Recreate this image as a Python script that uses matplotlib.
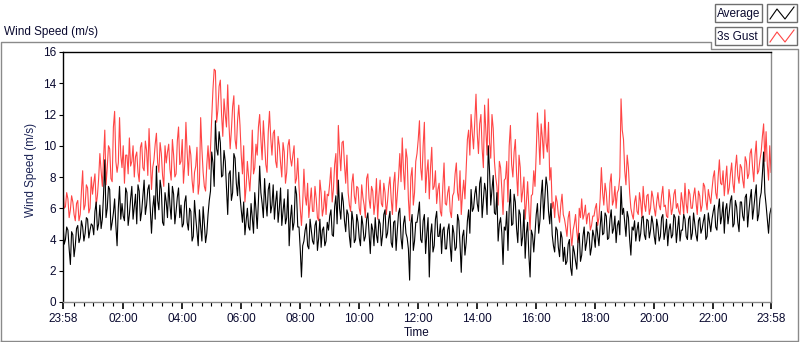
import numpy as np
import matplotlib
matplotlib.use("Agg")
import matplotlib.pyplot as plt
from matplotlib.lines import Line2D
from matplotlib.patches import Rectangle
from matplotlib.ticker import FixedLocator

# 5-minute samples from 23:58 to 23:58 (one row per hour)
avg_speed = [
    5.1, 4.0, 4.6, 2.4, 4.3, 3.6, 4.9, 4.1, 4.8, 4.4, 5.3, 4.6,
    4.9, 5.8, 4.6, 6.2, 5.3, 9.1, 6.0, 7.2, 5.1, 6.6, 3.6, 7.4,
    6.3, 5.2, 7.0, 5.6, 7.4, 6.1, 5.0, 7.1, 5.8, 7.8, 6.2, 7.5,
    4.4, 6.8, 8.7, 5.9, 7.2, 4.9, 6.4, 7.6, 5.3, 6.9, 5.8, 7.3,
    6.2, 5.0, 6.8, 4.6, 5.8, 4.2, 5.4, 3.6, 4.8, 6.1, 3.8, 5.6,
    7.1, 8.9, 11.6, 9.4, 10.2, 8.1, 9.0, 5.6, 8.4, 7.0, 9.2, 6.8,
    6.8, 5.1, 4.3, 6.0, 4.6, 5.4, 7.0, 4.7, 8.7, 6.3, 7.9, 5.5,
    7.6, 6.2, 5.3, 7.1, 6.0, 4.9, 6.6, 5.4, 3.6, 6.2, 5.1, 6.9,
    4.8, 1.6, 3.9, 5.0, 3.4, 4.6, 3.7, 5.2, 4.1, 3.5, 4.8, 3.9,
    4.6, 5.9, 4.2, 6.8, 7.8, 5.3, 6.4, 4.5, 5.6, 3.5, 5.2, 4.0,
    5.1, 3.6, 4.9, 4.2, 5.7, 3.1, 4.6, 5.4, 3.8, 5.0, 4.3, 5.9,
    4.4, 5.8, 3.5, 5.2, 4.6, 6.0, 3.4, 5.5, 4.1, 1.4, 5.6, 3.9,
    5.1, 6.4, 3.8, 5.6, 4.4, 1.6, 5.0, 3.6, 5.8, 4.2, 3.1, 4.8,
    3.4, 5.0, 2.6, 4.4, 3.5, 5.2, 1.9, 4.6, 3.8, 5.9, 7.2, 6.0,
    7.4, 5.8, 8.0, 6.5, 7.1, 10.0, 6.2, 8.1, 5.6, 3.9, 5.4, 2.4,
    4.6, 3.3, 7.2, 5.0, 6.4, 3.8, 5.6, 4.2, 2.8, 5.1, 1.6, 4.3,
    4.4, 6.3, 5.2, 7.8, 6.6, 7.4, 5.0, 4.3, 3.2, 4.6, 2.9, 4.1,
    3.5, 2.6, 4.0, 1.7, 3.2, 2.1, 4.4, 3.0, 4.8, 3.8, 4.4, 3.5,
    4.2, 5.1, 3.6, 5.8, 4.4, 5.5, 4.1, 5.9, 4.7, 3.8, 5.2, 7.4,
    6.0, 4.2, 5.4, 3.0, 4.6, 3.9, 5.1, 4.4, 5.5, 4.0, 5.2, 4.6,
    5.0, 3.7, 4.8, 4.2, 5.6, 4.5, 3.6, 5.0, 4.3, 5.4, 4.7, 3.9,
    4.6, 5.3, 4.0, 5.5, 4.4, 5.0, 3.9, 5.4, 4.7, 5.6, 4.2, 5.1,
    5.3, 6.2, 4.6, 6.6, 5.5, 4.4, 6.3, 5.7, 6.8, 5.0, 6.1, 4.5,
    6.4, 5.2, 6.9, 5.8, 7.2, 6.0, 7.5, 5.6, 7.0, 9.6, 6.2, 4.4, 6.0,
]

# samples taken half-way between the ones above (t + 2.5 min)
avg_speed_mid = [
    3.7, 4.8, 3.4, 4.5, 2.9, 4.7, 3.8, 5.2, 3.9, 5.4, 4.1, 5.0,
    4.3, 6.4, 5.0, 4.7, 6.9, 5.4, 7.4, 4.6, 5.7, 4.9, 6.0, 5.3,
    5.5, 7.3, 4.9, 6.6, 5.3, 6.9, 7.5, 5.2, 6.8, 5.6, 7.2, 5.9,
    6.0, 5.3, 6.5, 7.8, 5.1, 7.0, 5.4, 6.2, 7.4, 5.0, 6.7, 5.4,
    4.8, 6.4, 5.1, 6.0, 3.9, 6.5, 4.5, 5.9, 3.9, 5.0, 4.4, 6.5,
    9.6, 7.4, 9.8, 10.9, 8.0, 9.7, 7.3, 8.2, 6.5, 9.5, 7.6, 8.3,
    5.9, 6.4, 5.2, 4.8, 6.3, 4.4, 5.9, 6.5, 7.0, 5.4, 6.4, 7.2,
    5.7, 7.5, 6.4, 5.1, 7.3, 5.8, 5.0, 7.2, 5.3, 4.6, 7.4, 4.8,
    3.4, 3.6, 4.6, 3.6, 5.3, 3.9, 4.9, 3.3, 5.3, 4.6, 3.6, 5.1,
    5.5, 4.3, 6.1, 5.0, 6.0, 7.0, 5.2, 5.9, 4.2, 5.8, 3.8, 5.6,
    4.1, 5.5, 3.9, 5.3, 4.4, 5.0, 3.6, 4.3, 5.3, 3.6, 5.6, 4.1,
    5.3, 3.8, 5.1, 3.3, 5.7, 4.1, 5.0, 4.4, 3.4, 5.0, 3.3, 5.1,
    5.7, 4.0, 5.2, 3.1, 5.4, 4.3, 3.2, 5.3, 4.2, 5.0, 4.6, 3.4,
    4.6, 3.6, 4.9, 3.3, 5.6, 3.7, 4.2, 3.0, 5.2, 4.4, 5.8, 6.9,
    6.3, 7.6, 5.4, 7.6, 5.6, 8.4, 7.2, 5.7, 7.0, 5.0, 4.4, 4.8,
    5.8, 6.0, 4.9, 6.9, 4.7, 5.9, 3.6, 5.9, 4.4, 3.0, 4.6, 3.2,
    5.6, 4.4, 6.8, 5.3, 8.0, 5.8, 6.3, 3.6, 4.8, 3.5, 4.5, 2.6,
    2.4, 3.7, 2.2, 3.6, 2.6, 3.9, 2.6, 4.2, 3.3, 4.5, 3.0, 4.6,
    3.5, 4.3, 4.8, 4.3, 5.7, 4.0, 5.3, 4.4, 5.5, 4.9, 4.3, 5.6,
    5.1, 5.8, 4.0, 4.8, 5.2, 4.6, 3.9, 5.4, 4.3, 5.3, 4.1, 5.5,
    4.2, 5.3, 3.9, 5.4, 4.0, 5.3, 4.6, 4.1, 5.6, 3.8, 5.5, 4.6,
    5.6, 4.2, 5.3, 4.0, 5.7, 4.3, 5.2, 4.4, 5.2, 4.0, 5.7, 4.5,
    5.8, 4.8, 5.9, 5.0, 6.4, 5.9, 5.0, 6.5, 4.8, 6.5, 5.1, 6.4,
    5.5, 6.7, 4.8, 6.6, 5.3, 6.8, 5.2, 6.6, 8.2, 7.0, 5.3, 5.6,
]

gust_speed = [
    7.4, 6.1, 6.6, 5.9, 6.4, 5.2, 6.5, 5.6, 8.4, 6.2, 7.3, 6.0,
    6.9, 8.2, 6.8, 9.5, 7.4, 11.0, 8.6, 9.8, 7.7, 12.2, 8.3, 11.8,
    8.6, 7.6, 9.4, 10.5, 9.0, 8.0, 9.6, 7.7, 10.2, 8.4, 9.7, 11.1,
    7.2, 9.1, 10.8, 8.3, 9.5, 7.4, 8.9, 10.1, 7.8, 9.4, 8.2, 11.2,
    9.0, 7.6, 11.5, 8.1, 9.4, 7.0, 8.7, 6.9, 11.8, 8.3, 7.1, 10.0,
    9.8, 13.6, 14.8, 12.3, 14.2, 10.6, 12.0, 13.9, 9.8, 12.5, 10.4, 11.6,
    11.3, 8.2, 6.4, 9.0, 7.1, 11.0, 8.6, 9.4, 12.0, 9.1, 10.2, 8.3,
    12.2, 9.4, 11.0, 8.6, 10.0, 8.0, 9.6, 8.3, 10.4, 8.7, 10.0, 7.9,
    7.4, 4.9, 8.5, 6.2, 5.4, 7.3, 5.8, 6.6, 5.2, 7.0, 6.0, 5.6,
    6.8, 8.6, 7.2, 9.5, 11.3, 8.4, 10.3, 7.6, 7.0, 5.8, 8.2, 6.3,
    7.3, 5.6, 6.7, 5.4, 8.2, 6.0, 7.1, 6.4, 5.3, 7.8, 6.1, 7.0,
    6.4, 8.0, 5.6, 8.3, 6.9, 9.5, 10.5, 7.2, 9.2, 5.2, 8.6, 7.0,
    9.5, 11.6, 7.8, 11.5, 8.3, 6.6, 9.9, 7.4, 6.3, 7.6, 5.5, 8.9,
    6.2, 7.4, 5.4, 7.0, 8.9, 6.5, 5.6, 7.8, 8.5, 11.0, 12.0, 9.8,
    13.3, 9.5, 12.0, 8.6, 11.0, 13.0, 9.2, 11.1, 8.0, 6.2, 8.6, 5.6,
    7.9, 6.4, 11.3, 8.0, 10.4, 6.8, 8.6, 7.1, 5.3, 7.7, 4.6, 6.9,
    7.4, 12.1, 8.8, 10.5, 12.3, 9.6, 7.8, 6.0, 5.4, 6.4, 5.1, 6.9,
    5.3, 4.2, 5.8, 3.6, 5.0, 4.5, 6.0, 6.6, 5.6, 5.0, 5.7, 4.9,
    5.5, 6.3, 5.4, 8.6, 6.2, 7.0, 5.7, 8.2, 6.5, 6.0, 7.2, 13.0,
    10.4, 7.5, 8.6, 6.0, 5.3, 6.8, 5.6, 6.4, 7.4, 5.8, 6.9, 6.0,
    6.7, 5.5, 7.0, 5.9, 7.4, 6.2, 5.4, 6.6, 6.0, 7.2, 6.3, 5.6,
    6.4, 7.6, 5.7, 6.9, 6.0, 7.3, 5.6, 6.8, 6.2, 7.4, 5.9, 6.7,
    7.2, 8.4, 6.6, 9.1, 7.5, 6.8, 8.7, 7.3, 8.9, 7.0, 9.4, 7.6,
    8.6, 7.3, 9.0, 8.2, 9.8, 7.7, 10.3, 8.4, 9.6, 11.4, 10.9, 7.8, 8.3,
]

gust_speed_mid = [
    6.0, 7.0, 5.4, 6.8, 5.6, 6.3, 5.2, 7.1, 5.9, 7.5, 5.7, 8.0,
    7.6, 6.2, 7.9, 8.4, 9.2, 7.5, 10.0, 7.9, 11.2, 9.0, 8.9, 9.4,
    10.0, 9.4, 8.2, 8.7, 10.0, 9.3, 8.3, 9.9, 8.6, 10.3, 8.1, 9.2,
    8.6, 10.1, 8.9, 10.2, 8.1, 10.0, 9.6, 8.5, 10.4, 8.0, 10.3, 8.8,
    10.4, 8.8, 9.6, 10.0, 7.8, 8.3, 9.9, 7.6, 9.8, 7.4, 8.8, 8.5,
    11.8, 14.9, 11.5, 13.8, 12.0, 13.0, 11.2, 11.4, 11.0, 13.2, 9.8, 12.6,
    9.4, 10.0, 7.4, 8.0, 8.5, 8.2, 10.1, 11.2, 10.4, 11.6, 8.8, 10.9,
    10.5, 10.8, 9.0, 10.6, 8.9, 10.2, 7.6, 10.0, 9.2, 9.4, 7.6, 9.2,
    6.0, 6.3, 6.8, 7.6, 6.4, 5.8, 7.4, 5.4, 7.8, 5.5, 7.1, 6.9,
    7.6, 6.4, 8.8, 6.9, 9.6, 10.2, 8.8, 9.4, 6.2, 7.6, 6.8, 7.4,
    6.0, 7.5, 6.2, 7.9, 6.6, 7.4, 5.6, 7.9, 6.8, 6.3, 7.6, 5.6,
    7.4, 6.6, 7.6, 5.8, 8.0, 7.7, 8.4, 9.8, 6.6, 8.0, 6.2, 9.0,
    10.4, 8.6, 10.0, 7.0, 9.1, 8.6, 7.2, 8.4, 7.2, 5.8, 7.4, 6.3,
    7.0, 5.8, 6.8, 8.2, 7.0, 8.4, 6.9, 6.6, 10.4, 9.4, 10.8, 11.6,
    10.8, 11.4, 9.8, 12.6, 9.4, 10.2, 12.0, 9.0, 7.4, 9.0, 7.2, 7.8,
    9.0, 10.0, 8.8, 9.6, 8.2, 9.4, 6.4, 8.0, 6.4, 6.0, 6.8, 8.4,
    9.6, 10.6, 11.4, 9.2, 10.2, 11.5, 8.6, 6.4, 6.8, 5.6, 6.2, 5.6,
    4.8, 5.4, 4.4, 4.6, 5.6, 3.8, 5.4, 5.3, 6.2, 5.6, 4.6, 5.5,
    6.0, 4.9, 6.6, 7.0, 7.6, 5.8, 7.6, 6.2, 7.4, 7.0, 8.0, 11.0,
    8.4, 9.4, 7.0, 5.6, 6.4, 5.8, 7.0, 5.4, 6.3, 6.8, 5.6, 7.1,
    6.0, 6.4, 6.2, 6.8, 6.1, 5.5, 7.2, 5.6, 6.9, 6.0, 5.8, 7.0,
    5.6, 6.3, 7.2, 6.0, 6.8, 6.4, 7.1, 5.8, 7.6, 6.5, 7.2, 6.3,
    8.0, 7.0, 8.0, 7.6, 8.4, 7.8, 6.9, 8.2, 7.6, 8.6, 8.1, 8.8,
    7.8, 9.3, 7.9, 9.5, 8.6, 9.4, 8.2, 9.1, 10.6, 9.0, 8.8, 10.0,
]

tick_minutes = [0, 122, 242, 362, 482, 602, 722, 842, 962, 1082, 1202, 1322, 1440]
tick_labels = ["23:58", "02:00", "04:00", "06:00", "08:00", "10:00", "12:00",
               "14:00", "16:00", "18:00", "20:00", "22:00", "23:58"]


def merge(main, mid):
    """Put the half-step samples between the main ones."""
    out = np.empty(len(main) + len(mid))
    out[0::2] = main
    out[1::2] = mid
    return out


W, H = 800, 342
plt.rcParams["font.family"] = ["Liberation Sans", "DejaVu Sans"]
text_color = "#0a0a30"

fig = plt.figure(figsize=(W / 100, H / 100), dpi=100)
ax = fig.add_axes([63 / W, 1 - 302 / H, 708 / W, 250 / H])

avg = merge(avg_speed, avg_speed_mid)
gust = merge(gust_speed, gust_speed_mid)
minutes = np.arange(len(avg)) * 2.5
ax.plot(minutes, gust, color="#ff4545", lw=0.8)
ax.plot(minutes, avg, color="black", lw=0.8)

ax.set_xlim(0, 1440)
ax.set_ylim(0, 16)
ax.set_yticks(range(0, 17, 2))
ax.set_xticks(tick_minutes)
ax.set_xticklabels(tick_labels)
ax.xaxis.set_minor_locator(FixedLocator(np.arange(22, 1440, 20)))
ax.tick_params(axis="x", which="major", length=5, width=1.2, color="black",
               labelsize=8.5, labelcolor=text_color, pad=3)
ax.tick_params(axis="x", which="minor", length=3, width=0.8, color="black")
ax.tick_params(axis="y", length=3, width=0.8, labelsize=8.5,
               labelcolor=text_color, pad=2)

for side in ("top", "left"):
    ax.spines[side].set_color("black")
    ax.spines[side].set_linewidth(1.0)
for side in ("right", "bottom"):
    ax.spines[side].set_color("#8a8a8a")
    ax.spines[side].set_linewidth(1.0)

ax.set_xlabel("Time", fontsize=8.5, color=text_color, labelpad=1)
fig.text(31 / W, 1 - 170 / H, "Wind Speed (m/s)", rotation=90, fontsize=8.5,
         color="#1c2456", ha="center", va="center")
fig.text(4 / W, 1 - 32 / H, "Wind Speed (m/s)", fontsize=8.5, color=text_color,
         ha="left", va="center")


def px(x, y):
    return x / W, 1 - y / H


# outer panel frame
frame = [(0.5, 341), (0.5, 42), (711, 42), (711, 49), (798, 49), (798, 341), (0.5, 341)]
fx, fy = zip(*[px(x, y) for x, y in frame])
fig.add_artist(Line2D(fx, fy, color="#8a8a8a", lw=1.0, transform=fig.transFigure))

# LabVIEW-style plot legend
for row, (name, color) in enumerate([("Average", "black"), ("3s Gust", "#ff4545")]):
    top = 4 + row * 23
    x0, y0 = px(715, top + 18)
    fig.add_artist(Rectangle((x0, y0), 47 / W, 18 / H, transform=fig.transFigure,
                             facecolor="white", edgecolor="#6e6e6e", lw=1.0))
    fig.text(px(717, 0)[0], px(0, top + 9.5)[1], name, fontsize=8.5,
             color=text_color, ha="left", va="center")
    x1, y1 = px(767, top + 18)
    fig.add_artist(Rectangle((x1, y1), 30 / W, 18 / H, transform=fig.transFigure,
                             facecolor="white", edgecolor="#6e6e6e", lw=1.0))
    zig = [(770, top + 15), (777, top + 5), (785, top + 15), (794, top + 3)]
    zx, zy = zip(*[px(x, y) for x, y in zig])
    fig.add_artist(Line2D(zx, zy, color=color, lw=0.8, transform=fig.transFigure))

fig.savefig("out.png", dpi=100)
